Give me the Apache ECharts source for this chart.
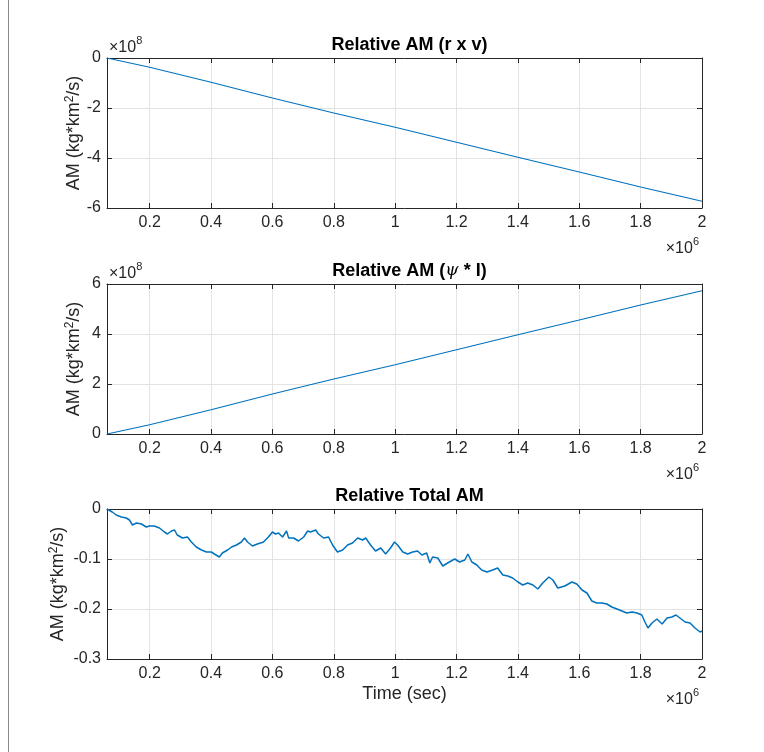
<!DOCTYPE html>
<html><head><meta charset="utf-8">
<script src="https://cdn.jsdelivr.net/npm/echarts@6/dist/echarts.min.js"></script>
<style>html,body{margin:0;padding:0;background:#fff}#c{width:764px;height:752px}</style>
</head><body><div id="c"></div>
<script>
// ---- data (time in units of 1e6 s) ----
const titles = ['Relative AM (r x v)', 'Relative AM ({i|ψ} * I)', 'Relative Total AM'];
const xTicks = [0.2, 0.4, 0.6, 0.8, 1, 1.2, 1.4, 1.6, 1.8, 2];
const tMin = 0.061, tMax = 2;
// r x v (units of 1e8)
const rxvTime = [0.061, 0.2, 0.4, 0.6, 0.8, 1.0, 1.2, 1.4, 1.6, 1.8, 2.0];
const rxvValues = [0, -0.37, -0.97, -1.6, -2.2, -2.77, -3.37, -3.97, -4.56, -5.16, -5.73];
// psi * I (units of 1e8)
const psiTime = [0.061, 0.2, 0.4, 0.6, 0.8, 1.0, 1.2, 1.4, 1.6, 1.8, 2.0];
const psiValues = [0, 0.37, 0.97, 1.6, 2.2, 2.77, 3.37, 3.97, 4.56, 5.16, 5.73];
// total
const totalTime = [0.061,0.078,0.091,0.108,0.124,0.134,0.144,0.157,0.173,0.189,0.199,0.215,0.232,0.248,0.258,0.271,0.281,0.290,0.307,0.323,0.336,0.352,0.369,0.385,0.401,0.411,0.427,0.437,0.454,0.467,0.483,0.499,0.509,0.519,0.535,0.551,0.571,0.587,0.600,0.610,0.620,0.633,0.646,0.653,0.669,0.685,0.702,0.715,0.724,0.741,0.750,0.767,0.783,0.796,0.812,0.829,0.845,0.861,0.878,0.894,0.904,0.920,0.936,0.953,0.969,0.985,0.998,1.008,1.025,1.041,1.057,1.073,1.087,1.103,1.113,1.122,1.139,1.155,1.171,1.194,1.210,1.227,1.237,1.250,1.266,1.282,1.299,1.318,1.334,1.351,1.367,1.383,1.400,1.416,1.432,1.449,1.465,1.481,1.501,1.514,1.530,1.553,1.576,1.592,1.609,1.625,1.641,1.657,1.674,1.690,1.706,1.723,1.739,1.755,1.772,1.788,1.804,1.814,1.824,1.837,1.853,1.870,1.886,1.902,1.915,1.928,1.945,1.961,1.977,1.994,2.000];
const totalValues = [0,-0.006,-0.012,-0.016,-0.018,-0.022,-0.032,-0.028,-0.030,-0.036,-0.034,-0.034,-0.038,-0.046,-0.050,-0.044,-0.042,-0.052,-0.058,-0.056,-0.066,-0.076,-0.082,-0.086,-0.086,-0.090,-0.096,-0.088,-0.082,-0.076,-0.072,-0.066,-0.058,-0.066,-0.074,-0.070,-0.066,-0.056,-0.046,-0.050,-0.048,-0.056,-0.044,-0.058,-0.058,-0.064,-0.056,-0.044,-0.046,-0.042,-0.050,-0.058,-0.056,-0.072,-0.086,-0.082,-0.072,-0.068,-0.058,-0.062,-0.058,-0.072,-0.084,-0.078,-0.090,-0.078,-0.066,-0.072,-0.086,-0.090,-0.086,-0.084,-0.092,-0.088,-0.108,-0.096,-0.098,-0.114,-0.108,-0.100,-0.106,-0.102,-0.090,-0.106,-0.112,-0.122,-0.126,-0.122,-0.118,-0.132,-0.134,-0.138,-0.146,-0.152,-0.148,-0.152,-0.160,-0.148,-0.136,-0.142,-0.158,-0.154,-0.146,-0.150,-0.162,-0.168,-0.184,-0.188,-0.188,-0.190,-0.196,-0.200,-0.204,-0.208,-0.206,-0.208,-0.212,-0.226,-0.238,-0.228,-0.220,-0.230,-0.218,-0.216,-0.212,-0.218,-0.226,-0.228,-0.238,-0.246,-0.244];
const yRanges = [[-6, 0, 2], [0, 6, 2], [-0.3, 0, 0.1]];
const yName = 'AM (kg*km{s|2}/s)';

// ---- styling ----
const FONT = '"Liberation Sans", Arial, Helvetica, sans-serif';
const AX = '#262626', GRIDC = '#e3e3e3', LINE = '#0072BD';
const gridTops = [58, 284, 509];
const nameGaps = [22, 22, 38];
const TICKF = 16, LABF = 18;

const grids = [], xAxes = [], yAxes = [], series = [], titleArr = [], graphics = [];
const pairs = [[rxvTime, rxvValues], [psiTime, psiValues], [totalTime, totalValues]];
const expStyle = (e) => ({text: '{a|×10}{b|' + e + '}', rich: {
  a: {fontSize: TICKF, fontFamily: FONT, fill: AX, padding: [7, 0, 0, 0]},
  b: {fontSize: 11, fontFamily: FONT, fill: AX, padding: [0, 0, 8, 0]}}});
for (let i = 0; i < 3; i++) {
  grids.push({left: 107, width: 595, top: gridTops[i], height: 150});
  const baseX = {type: 'value', gridIndex: i, min: tMin, max: tMax,
    axisLine: {show: true, onZero: false, lineStyle: {color: AX, width: 1}},
    axisTick: {show: true, inside: true, length: 5, customValues: xTicks, lineStyle: {color: AX}}};
  xAxes.push(Object.assign({}, baseX, {position: 'bottom',
    axisLabel: {customValues: xTicks, color: AX, fontSize: TICKF, fontFamily: FONT, margin: 7,
      formatter: v => String(v)},
    splitLine: {show: true, lineStyle: {color: GRIDC, width: 1}},
    name: i === 2 ? 'Time (sec)' : '', nameLocation: 'middle', nameGap: 26,
    nameTextStyle: {color: AX, fontSize: LABF, fontFamily: FONT}}));
  xAxes.push(Object.assign({}, baseX, {position: 'top', axisLabel: {show: false}, splitLine: {show: false}}));
  const [mn, mx, iv] = yRanges[i];
  const baseY = {type: 'value', gridIndex: i, min: mn, max: mx, interval: iv,
    axisLine: {show: true, onZero: false, lineStyle: {color: AX, width: 1}},
    axisTick: {show: true, inside: true, length: 5, lineStyle: {color: AX}}};
  yAxes.push(Object.assign({}, baseY, {position: 'left',
    axisLabel: {color: AX, fontSize: TICKF, fontFamily: FONT, margin: 6,
      formatter: v => String(Math.round(v * 10) / 10)},
    splitLine: {show: true, lineStyle: {color: GRIDC, width: 1}},
    name: yName, nameLocation: 'middle', nameRotate: 90, nameGap: nameGaps[i], nameMoveOverlap: false,
    nameTextStyle: {color: AX, fontFamily: FONT, fontSize: LABF,
      rich: {s: {fontSize: 12, fontFamily: FONT, color: AX, padding: [0, 0, 9, 0]}}}}));
  yAxes.push(Object.assign({}, baseY, {position: 'right', axisLabel: {show: false}, splitLine: {show: false}}));
  series.push({type: 'line', xAxisIndex: 2 * i, yAxisIndex: 2 * i, showSymbol: false, symbol: 'none',
    data: pairs[i][0].map((t, k) => [t, pairs[i][1][k]]),
    lineStyle: {color: LINE, width: i === 2 ? 1.5 : 1.2}, animation: false, z: 3});
  titleArr.push({text: titles[i], left: 404.5, textAlign: 'center', top: gridTops[i] - 27,
    textStyle: {fontFamily: FONT, fontSize: LABF, fontWeight: 'bold', color: '#000',
      rich: {i: {fontFamily: '"DejaVu Serif", serif', fontStyle: 'italic', fontSize: 17, fontWeight: 'normal', color: '#000'}}}});
  if (i < 2) {
    graphics.push({type: 'text', left: 109, top: gridTops[i] - 23, style: expStyle(8)});
  }
  graphics.push({type: 'text', right: 65, top: gridTops[i] + 178, style: expStyle(6)});
}
graphics.push({type: 'line', shape: {x1: 8.5, y1: 0, x2: 8.5, y2: 752}, style: {stroke: '#8a8a8a', lineWidth: 1}});

const chart = echarts.init(document.getElementById('c'), null, {renderer: 'canvas'});
chart.setOption({
  backgroundColor: '#fff', animation: false,
  title: titleArr, grid: grids, xAxis: xAxes, yAxis: yAxes, series: series, graphic: graphics
});
</script></body></html>
